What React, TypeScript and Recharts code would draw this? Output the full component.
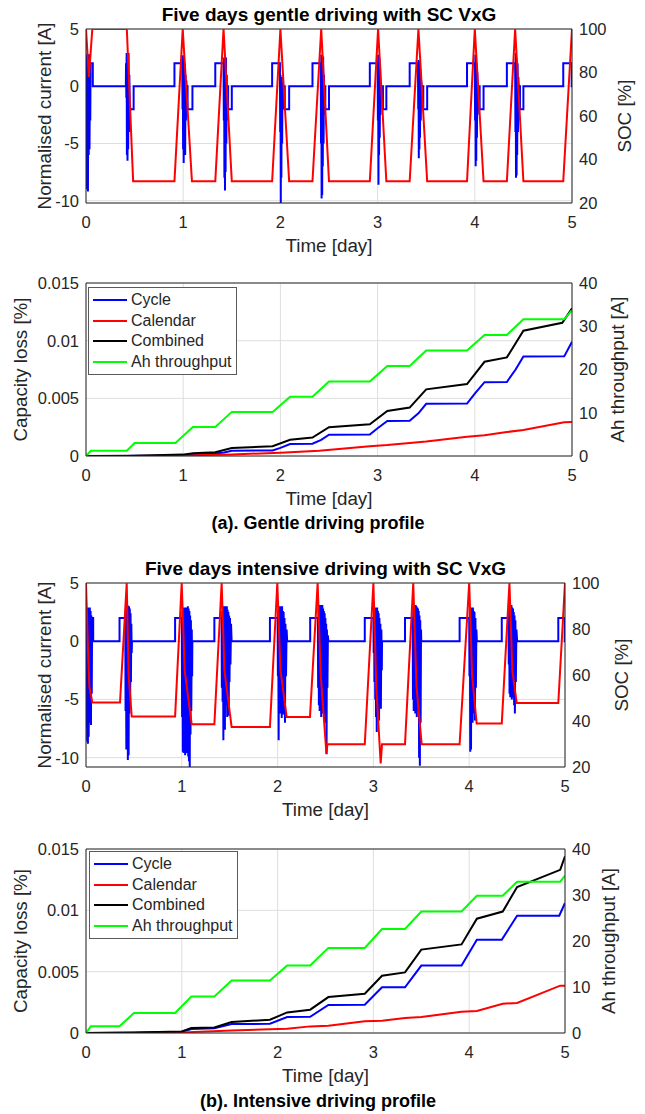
import React from 'react';
import { LineChart, Line, XAxis, YAxis, CartesianGrid, ReferenceLine, Legend, Label } from 'recharts';

type Pt = [number, number];

// ---------------- axis ticks / names ----------------
const timeTicks = [0, 1, 2, 3, 4, 5];
const currentTicks = [-10, -5, 0, 5];
const socTicks = [20, 40, 60, 80, 100];
const lossTicks = [0, 0.005, 0.01, 0.015];
const ahTicks = [0, 10, 20, 30, 40];
const lossNames = ['Cycle', 'Calendar', 'Combined', 'Ah throughput'];
const lossColors = ['#0000ff', '#ff0000', '#000000', '#00ff00'];

// ---------------- gentle: current [A] ----------------
const gentleCurrent: Pt[] = [
  [0, 2], [0.004, -9.0], [0.008, 2.8], [0.012, -8.5], [0.016, 1.5], [0.02, -9.2], [0.024, 2.6], [0.028, -6.0], [0.032, 2.8], [0.036, -5.5], [0.04, 1.0], [0.044, -3.0], [0.047, 2], [0.07, 2], [0.07, 0],
  [0.41, 0], [0.412, 2], [0.415, -1.0], [0.418, 2.9], [0.421, -6.0], [0.424, 2.5], [0.427, -6.5], [0.43, 1.8], [0.434, -5.5], [0.438, 2.9], [0.442, -4.0], [0.446, 1.0], [0.45, -2.5], [0.455, -2], [0.49, -2], [0.49, 0],
  [0.91, 0], [0.91, 2], [0.99, 2], [0.993, -2.0], [0.996, 2.7], [0.999, -5.5], [1.002, 2.2], [1.005, -6.7], [1.008, 2.5], [1.012, -4.5], [1.016, 2.0], [1.02, -6.0], [1.024, 1.0], [1.028, -3.0], [1.032, 0.5], [1.035, 0], [1.045, 0], [1.045, -2], [1.095, -2], [1.095, 0],
  [1.33, 0], [1.33, 2], [1.415, 2], [1.418, -3.0], [1.421, 2.5], [1.424, -8.0], [1.427, 2.2], [1.43, -9.1], [1.433, 1.8], [1.436, -7.5], [1.44, 2.5], [1.444, -5.0], [1.448, 1.0], [1.452, -3.0], [1.455, 0], [1.462, 0], [1.462, -2], [1.5, -2], [1.5, 0],
  [1.915, 0], [1.915, 2], [1.995, 2], [1.998, -4.0], [2.001, 1.0], [2.004, -10.3], [2.007, 0.5], [2.01, -8.0], [2.014, 0.8], [2.018, -5.0], [2.022, 0.3], [2.026, -2.0], [2.03, 0], [2.045, 0], [2.045, -2], [2.09, -2], [2.09, 0],
  [2.33, 0], [2.33, 2], [2.415, 2], [2.418, -5.0], [2.421, 2.75], [2.424, -9.8], [2.427, 2.4], [2.43, -9.5], [2.433, 2.0], [2.436, -7.0], [2.44, 2.6], [2.444, -5.0], [2.448, 1.0], [2.452, -2.5], [2.455, 0], [2.462, 0], [2.462, -2], [2.5, -2], [2.5, 0],
  [2.92, 0], [2.92, 2], [3.0, 2], [3.003, -3.0], [3.006, 2.75], [3.009, -8.6], [3.012, 2.2], [3.015, -6.0], [3.018, 2.5], [3.022, -4.5], [3.026, 1.5], [3.03, -2.5], [3.035, 0], [3.055, 0], [3.055, -2], [3.09, -2], [3.09, 0],
  [3.33, 0], [3.33, 2], [3.415, 2], [3.418, -2.0], [3.421, 2.3], [3.424, -6.3], [3.427, 2.0], [3.43, -5.5], [3.433, 2.2], [3.436, -4.5], [3.44, 1.5], [3.444, -3.0], [3.448, 0.5], [3.452, 0], [3.47, 0], [3.47, -2], [3.51, -2], [3.51, 0],
  [3.92, 0], [3.92, 2], [4.0, 2], [4.003, -3.0], [4.006, 2.75], [4.009, -7.0], [4.012, 2.3], [4.015, -6.5], [4.018, 2.0], [4.022, -4.5], [4.026, 1.2], [4.03, -2.5], [4.035, 0], [4.05, 0], [4.05, -2], [4.09, -2], [4.09, 0],
  [4.33, 0], [4.33, 2], [4.415, 2], [4.418, -4.0], [4.421, 2.9], [4.424, -8.0], [4.427, 2.5], [4.43, -7.8], [4.433, 2.2], [4.436, -6.0], [4.44, 2.0], [4.444, -4.0], [4.448, 0.8], [4.452, 0], [4.465, 0], [4.465, -2], [4.5, -2], [4.5, 0],
  [4.91, 0], [4.91, 2], [4.997, 2], [4.997, 0], [5, 0],
];

// ---------------- gentle: SOC [%] ----------------
const gentleSoc: Pt[] = [
  [0, 100], [0.03, 78], [0.065, 100], [0.42, 100], [0.485, 30], [0.91, 30], [0.995, 100], [1.09, 30], [1.33, 30],
  [1.415, 100], [1.5, 30], [1.915, 30], [2.0, 100], [2.09, 30], [2.33, 30], [2.42, 100], [2.5, 30], [2.92, 30],
  [3.005, 100], [3.09, 30], [3.33, 30], [3.42, 100], [3.51, 30], [3.92, 30], [4.0, 100], [4.09, 30], [4.33, 30],
  [4.415, 100], [4.5, 30], [4.91, 30], [5.0, 100],
];

// ---------------- gentle: capacity loss [%] and Ah ----------------
const gentleCycle: Pt[] = [
  [0, 0], [0.42, 0.00001], [0.5, 0.00002], [0.92, 0.00004], [1.0, 0.00008], [1.1, 0.00018], [1.33, 0.00022], [1.42, 0.0003],
  [1.5, 0.00046], [1.92, 0.00048], [2.0, 0.0007], [2.1, 0.00104], [2.33, 0.00106], [2.42, 0.0014], [2.5, 0.00185], [2.92, 0.00187],
  [3.0, 0.0024], [3.1, 0.00303], [3.33, 0.00305], [3.42, 0.0037], [3.5, 0.00452], [3.92, 0.00455], [4.0, 0.0054], [4.1, 0.0064],
  [4.33, 0.00642], [4.42, 0.0075], [4.5, 0.00862], [4.92, 0.00864], [5.0, 0.0099],
];
const gentleCalendar: Pt[] = [
  [0, 0], [0.5, 0.00001], [1.0, 0.00005], [1.5, 0.00014], [2.0, 0.00028], [2.4, 0.00045], [2.92, 0.00085], [3.1, 0.00095],
  [3.33, 0.00113], [3.5, 0.00125], [3.92, 0.00166], [4.1, 0.0018], [4.33, 0.00208], [4.5, 0.00225], [4.92, 0.00292], [5.0, 0.00295],
];
const gentleCombined: Pt[] = [
  [0, 0], [0.5, 0.00003], [1.0, 0.00012], [1.1, 0.00024], [1.33, 0.00033], [1.5, 0.0007], [1.92, 0.00085], [2.1, 0.0014],
  [2.33, 0.0016], [2.5, 0.0025], [2.92, 0.00275], [3.1, 0.0039], [3.33, 0.0042], [3.5, 0.00578], [3.92, 0.00624], [4.1, 0.00817],
  [4.33, 0.00855], [4.5, 0.01086], [4.9, 0.01155], [5.0, 0.0128],
];
const gentleAh: Pt[] = [
  [0, 0], [0.05, 1.2], [0.42, 1.2], [0.5, 3.0], [0.92, 3.0], [1.1, 6.7], [1.33, 6.7], [1.5, 10.2], [1.92, 10.2], [2.1, 13.7],
  [2.33, 13.7], [2.5, 17.2], [2.92, 17.2], [3.1, 20.8], [3.33, 20.8], [3.5, 24.4], [3.92, 24.4], [4.1, 28.0], [4.33, 28.0],
  [4.5, 31.6], [4.92, 31.6], [5.0, 33.7],
];

// ---------------- intensive: current [A] ----------------
const intensiveCurrent: Pt[] = [
  [0, 2], [0.004, -7.5], [0.008, 2.9], [0.012, -8.6], [0.016, 2.8], [0.02, -8.8], [0.024, 2.9], [0.028, -8.2], [0.032, 2.7], [0.036, -7.0], [0.04, 2.9], [0.044, -6.5], [0.048, 2.6], [0.052, -7.2], [0.056, 2.2], [0.06, -4.5], [0.064, 2], [0.075, 2], [0.075, 0],
  [0.35, 0], [0.35, 2], [0.41, 2],
  [0.413, -6.0], [0.417, 2.9], [0.421, -9.3], [0.425, 3.0], [0.429, -6.5], [0.433, 3.1], [0.437, -10.2], [0.441, 2.9], [0.445, -9.8], [0.449, 3.0], [0.453, -6.2], [0.457, 2.8], [0.461, -5.5], [0.465, 2.4], [0.469, -3.5], [0.473, 1.5], [0.477, -1.0], [0.48, 0],
  [0.93, 0], [0.93, 2], [1.0, 2],
  [1.003, -6.5], [1.007, 2.6], [1.011, -9.5], [1.015, 2.8], [1.019, -9.6], [1.023, 2.9], [1.027, -9.4], [1.031, 2.9], [1.035, -9.8], [1.039, 2.8], [1.043, -9.0], [1.047, 2.9], [1.051, -9.6], [1.055, 2.9], [1.059, -8.5], [1.063, 3.0], [1.067, -9.9], [1.071, 2.8], [1.075, -10.3], [1.079, 2.6], [1.083, -10.8], [1.087, 2.2], [1.091, -8.0], [1.095, 1.8], [1.099, -6.0], [1.104, 1.0], [1.108, -3.0], [1.11, 0],
  [1.34, 0], [1.34, 2], [1.415, 2],
  [1.418, -4.0], [1.422, 2.6], [1.426, -5.2], [1.43, 2.9], [1.434, -8.5], [1.438, 3.0], [1.442, -5.0], [1.446, 2.9], [1.45, -7.6], [1.454, 3.0], [1.458, -5.5], [1.462, 2.8], [1.466, -4.8], [1.47, 3.0], [1.474, -6.5], [1.478, 2.7], [1.482, -5.0], [1.486, 2.5], [1.49, -6.4], [1.494, 2.2], [1.498, -3.5], [1.503, 2.0], [1.508, -2.0], [1.514, 1.5], [1.52, 0],
  [1.92, 0], [1.92, 2], [2.0, 2],
  [2.003, -3.0], [2.007, 2.7], [2.011, -8.5], [2.015, 3.0], [2.019, -5.5], [2.023, 2.9], [2.027, -6.2], [2.031, 3.0], [2.035, -5.0], [2.039, 2.8], [2.043, -6.6], [2.047, 3.0], [2.051, -5.8], [2.055, 2.6], [2.059, -6.3], [2.063, 2.5], [2.067, -4.5], [2.072, 2.0], [2.077, -7.0], [2.082, 1.5], [2.088, -3.0], [2.094, 1.0], [2.1, 0],
  [2.34, 0], [2.34, 2], [2.42, 2],
  [2.423, -4.0], [2.427, 2.9], [2.431, -5.5], [2.435, 3.1], [2.439, -6.0], [2.443, 3.0], [2.447, -5.2], [2.451, 3.1], [2.455, -6.5], [2.459, 2.9], [2.463, -5.8], [2.467, 3.1], [2.471, -6.2], [2.475, 2.8], [2.479, -5.5], [2.483, 2.6], [2.487, -6.0], [2.491, 2.4], [2.495, -7.0], [2.499, 2.0], [2.503, -6.5], [2.507, 1.5], [2.511, -9.7], [2.515, 1.0], [2.52, -4.0], [2.525, 0.5], [2.53, 0],
  [2.91, 0], [2.91, 2], [3.0, 2],
  [3.003, -1.0], [3.007, 2.9], [3.011, -3.5], [3.015, 2.8], [3.019, -5.0], [3.023, 2.9], [3.027, -6.5], [3.031, 2.7], [3.035, -7.8], [3.039, 2.9], [3.043, -6.0], [3.047, 2.6], [3.051, -5.5], [3.055, 2.4], [3.059, -6.8], [3.063, 2.0], [3.068, -4.5], [3.073, 1.5], [3.078, -5.8], [3.083, 1.0], [3.088, -2.5], [3.09, 0],
  [3.33, 0], [3.33, 2], [3.41, 2],
  [3.413, -5.0], [3.417, 2.9], [3.421, -6.0], [3.425, 3.1], [3.429, -5.5], [3.433, 3.0], [3.437, -6.2], [3.441, 3.1], [3.445, -5.8], [3.449, 3.0], [3.453, -6.5], [3.457, 2.9], [3.461, -6.0], [3.465, 2.8], [3.469, -5.5], [3.473, 2.6], [3.477, -10.0], [3.481, 2.2], [3.485, -10.7], [3.489, 1.8], [3.493, -7.0], [3.497, 1.0], [3.5, 0],
  [3.9, 0], [3.9, 2], [4.0, 2],
  [4.003, -3.0], [4.007, 2.9], [4.011, -9.5], [4.015, 2.8], [4.019, -9.3], [4.023, 2.9], [4.027, -6.5], [4.031, 2.7], [4.035, -7.0], [4.039, 2.9], [4.043, -6.2], [4.047, 2.6], [4.051, -5.5], [4.055, 2.5], [4.06, -6.8], [4.065, 2.0], [4.07, -4.0], [4.075, 1.0], [4.08, 0],
  [4.34, 0], [4.34, 2], [4.41, 2],
  [4.413, -2.0], [4.417, 2.8], [4.421, -4.5], [4.425, 3.1], [4.429, -4.8], [4.433, 3.0], [4.437, -3.5], [4.441, 3.1], [4.445, -5.0], [4.449, 2.9], [4.453, -4.2], [4.457, 2.8], [4.461, -4.8], [4.465, 2.5], [4.469, -5.5], [4.473, 2.2], [4.477, -6.2], [4.482, 1.8], [4.487, -3.5], [4.493, 1.0], [4.5, 0],
  [4.93, 0], [4.93, 2], [4.997, 2], [4.997, 0], [5, 0],
];

// ---------------- intensive: SOC [%] ----------------
const intensiveSoc: Pt[] = [
  [0, 100], [0.02, 72], [0.035, 55], [0.066, 48], [0.355, 48], [0.425, 100], [0.445, 60], [0.477, 42], [0.93, 42],
  [0.999, 100], [1.03, 62], [1.103, 38.6], [1.34, 38.6], [1.416, 100], [1.445, 62], [1.52, 37.4], [1.92, 37.4],
  [1.997, 100], [2.03, 62], [2.095, 41.7], [2.338, 41.7], [2.418, 100], [2.45, 60], [2.51, 25.8], [2.52, 29.9], [2.91, 29.9],
  [3.0, 100], [3.03, 55], [3.076, 21.5], [3.09, 29.9], [3.33, 29.9], [3.416, 100], [3.45, 55], [3.504, 29.9], [3.9, 29.9],
  [4.0, 100], [4.03, 60], [4.078, 38.9], [4.34, 38.9], [4.42, 100], [4.45, 62], [4.496, 47.8], [4.93, 47.8], [5.0, 100],
];

// ---------------- intensive: capacity loss [%] and Ah ----------------
const intensiveCycle: Pt[] = [
  [0, 0], [0.5, 0.00002], [1.0, 0.0001], [1.1, 0.00033], [1.34, 0.00038], [1.52, 0.00073], [1.92, 0.00075], [2.1, 0.0013],
  [2.34, 0.00132], [2.53, 0.00228], [2.91, 0.0023], [3.09, 0.00372], [3.33, 0.00372], [3.5, 0.0055], [3.92, 0.0055],
  [4.08, 0.0076], [4.34, 0.0076], [4.5, 0.00956], [4.94, 0.00956], [5.0, 0.0106],
];
const intensiveCalendar: Pt[] = [
  [0, 0], [0.5, 0.00001], [1.0, 0.00005], [1.52, 0.0002], [1.92, 0.0003], [2.1, 0.00035], [2.34, 0.00054], [2.53, 0.0006],
  [2.91, 0.00095], [3.09, 0.001], [3.33, 0.00122], [3.5, 0.0013], [3.92, 0.00174], [4.08, 0.0018], [4.35, 0.00239],
  [4.5, 0.00245], [4.95, 0.00386], [5.0, 0.00386],
];
const intensiveCombined: Pt[] = [
  [0, 0], [0.5, 0.00004], [1.0, 0.00013], [1.1, 0.0004], [1.34, 0.00045], [1.52, 0.0009], [1.92, 0.00108], [2.1, 0.00168],
  [2.34, 0.0019], [2.53, 0.00293], [2.91, 0.0032], [3.09, 0.00467], [3.33, 0.00494], [3.5, 0.0068], [3.92, 0.00722],
  [4.08, 0.00932], [4.35, 0.0099], [4.5, 0.0119], [4.95, 0.0133], [5.0, 0.0144],
];
const intensiveAh: Pt[] = [
  [0, 0], [0.05, 1.45], [0.35, 1.45], [0.43, 3.0], [0.5, 4.35], [0.93, 4.35], [1.1, 7.95], [1.34, 7.95], [1.52, 11.4],
  [1.92, 11.4], [2.1, 14.7], [2.34, 14.7], [2.53, 18.5], [2.91, 18.5], [3.09, 22.6], [3.33, 22.6], [3.5, 26.4], [3.92, 26.4],
  [4.08, 29.85], [4.35, 29.85], [4.5, 32.9], [4.95, 32.9], [5.0, 34.2],
];

// ---------------- styling ----------------
const FONT = '"Liberation Sans", Arial, Helvetica, sans-serif';
const AX = '#262626';
const GRID = '#dedede';
const PLOT_LEFT = 86;
const tickStyle = { fontSize: 16.5, fill: AX, fontFamily: FONT };
const labelProps = { fontSize: 18.8, fill: AX, fontFamily: FONT };

const toRows = (pts: Pt[]) => pts.map(([t, v]) => ({ t, v }));

type CurrentProps = {
  plotTop: number; plotH: number; plotRight: number;
  current: Pt[]; soc: Pt[]; low: number; leftDx: number; rightDx: number;
};

function CurrentPanel({ plotTop, plotH, plotRight, current, soc, low, leftDx, rightDx }: CurrentProps) {
  const rightW = 645 - plotRight;
  return (
    <div style={{ position: 'absolute', left: 0, top: plotTop - 10 }}>
      <LineChart width={645} height={plotH + 65} margin={{ top: 10, right: 0, bottom: 0, left: 0 }}>
        <CartesianGrid stroke={GRID} strokeWidth={1} />
        <XAxis dataKey="t" type="number" domain={[0, 5]} ticks={timeTicks} interval={0} allowDataOverflow
          height={55} tickLine={false} tickSize={4} tickMargin={9} axisLine={{ stroke: AX }} tick={tickStyle}>
          <Label value="Time [day]" position="insideBottom" offset={6} {...labelProps} />
        </XAxis>
        <YAxis type="number" domain={[low, 5]} ticks={currentTicks} interval={0} allowDataOverflow width={PLOT_LEFT}
          tickLine={false} tickSize={4} tickMargin={3} axisLine={{ stroke: AX }} tick={tickStyle}>
          <Label value="Normalised current [A]" angle={-90} position="center" dx={leftDx} {...labelProps} />
        </YAxis>
        <YAxis yAxisId="right" orientation="right" type="number" domain={[20, 100]} ticks={socTicks} interval={0}
          allowDataOverflow width={rightW} tickLine={false} tickSize={4} tickMargin={3} axisLine={{ stroke: AX }} tick={tickStyle}>
          <Label value="SOC [%]" angle={-90} position="center" dx={rightDx} {...labelProps} />
        </YAxis>
        <ReferenceLine y={5} stroke={AX} strokeWidth={1} />
        <Line data={toRows(current)} dataKey="v" type="linear" stroke="#0000ff" strokeWidth={2} dot={false}
          activeDot={false} isAnimationActive={false} />
        <Line data={toRows(soc)} yAxisId="right" dataKey="v" type="linear" stroke="#ff0000" strokeWidth={2} dot={false}
          activeDot={false} isAnimationActive={false} />
      </LineChart>
    </div>
  );
}

const renderLegend = (props: any) => {
  const payload: any[] = (props.payload || []).slice();
  payload.sort((a, b) => lossNames.indexOf(a.value) - lossNames.indexOf(b.value));
  return (
    <div style={{
      border: '1px solid #5a5a5a', background: '#ffffff', padding: '2px 4px 2px 4px',
      fontFamily: FONT, fontSize: 16, color: AX, lineHeight: '20.5px', whiteSpace: 'nowrap',
    }}>
      {payload.map((p: any) => (
        <div key={p.value} style={{ display: 'flex', alignItems: 'center', height: 20.5 }}>
          <span style={{ display: 'inline-block', width: 34, height: 2, background: p.color, marginRight: 4 }} />
          <span>{p.value}</span>
        </div>
      ))}
    </div>
  );
};

type LossProps = {
  plotTop: number; plotH: number; plotRight: number;
  series: Pt[][]; ah: Pt[]; legendLeft: number; legendTop: number; leftDx: number; rightDx: number;
};

function LossPanel({ plotTop, plotH, plotRight, series, ah, legendLeft, legendTop, leftDx, rightDx }: LossProps) {
  const rightW = 645 - plotRight;
  return (
    <div style={{ position: 'absolute', left: 0, top: plotTop - 10 }}>
      <LineChart width={645} height={plotH + 65} margin={{ top: 10, right: 0, bottom: 0, left: 0 }}>
        <CartesianGrid stroke={GRID} strokeWidth={1} />
        <XAxis dataKey="t" type="number" domain={[0, 5]} ticks={timeTicks} interval={0} allowDataOverflow
          height={55} tickLine={false} tickSize={4} tickMargin={9} axisLine={{ stroke: AX }} tick={tickStyle}>
          <Label value="Time [day]" position="insideBottom" offset={6} {...labelProps} />
        </XAxis>
        <YAxis type="number" domain={[0, 0.015]} ticks={lossTicks} interval={0} allowDataOverflow width={PLOT_LEFT}
          tickLine={false} tickSize={4} tickMargin={3} axisLine={{ stroke: AX }} tick={tickStyle}>
          <Label value="Capacity loss [%]" angle={-90} position="center" dx={leftDx} {...labelProps} />
        </YAxis>
        <YAxis yAxisId="right" orientation="right" type="number" domain={[0, 40]} ticks={ahTicks} interval={0}
          allowDataOverflow width={rightW} tickLine={false} tickSize={4} tickMargin={3} axisLine={{ stroke: AX }} tick={tickStyle}>
          <Label value="Ah throughput [A]" angle={-90} position="center" dx={rightDx} {...labelProps} />
        </YAxis>
        <ReferenceLine y={0.015} stroke={AX} strokeWidth={1} />
        {series.map((s, i) => (
          <Line key={lossNames[i]} name={lossNames[i]} data={toRows(s)} dataKey="v" type="linear" stroke={lossColors[i]}
            strokeWidth={2} dot={false} activeDot={false} isAnimationActive={false} />
        ))}
        <Line name={lossNames[3]} data={toRows(ah)} yAxisId="right" dataKey="v" type="linear" stroke={lossColors[3]}
          strokeWidth={2} dot={false} activeDot={false} isAnimationActive={false} />
        <Legend layout="vertical" align="center" verticalAlign="middle" content={renderLegend}
          wrapperStyle={{ left: legendLeft, top: legendTop, width: 'auto' }} />
      </LineChart>
    </div>
  );
}

const textBase: React.CSSProperties = {
  position: 'absolute', textAlign: 'center', fontFamily: FONT, fontWeight: 'bold', color: '#000',
  height: 24, lineHeight: '24px', whiteSpace: 'nowrap',
};

export default function App() {
  return (
    <div style={{ position: 'absolute', left: 0, top: 0, width: 645, height: 1114, background: '#ffffff', overflow: 'hidden' }}>
      <div style={{ ...textBase, left: 86, width: 486, top: 15 - 12, fontSize: 19 }}>Five days gentle driving with SC VxG</div>
      <CurrentPanel plotTop={29} plotH={174} plotRight={572} current={gentleCurrent} soc={gentleSoc} low={-10.2} leftDx={1} rightDx={15.5} />
      <LossPanel plotTop={283} plotH={173} plotRight={572} series={[gentleCycle, gentleCalendar, gentleCombined]} ah={gentleAh}
        legendLeft={88} legendTop={14} leftDx={-22.4} rightDx={8.5} />
      <div style={{ ...textBase, left: 0, width: 636, top: 523 - 12, fontSize: 18 }}>(a). Gentle driving profile</div>

      <div style={{ ...textBase, left: 86, width: 479, top: 569 - 12, fontSize: 19 }}>Five days intensive driving with SC VxG</div>
      <CurrentPanel plotTop={583} plotH={184} plotRight={565} current={intensiveCurrent} soc={intensiveSoc} low={-10.8} leftDx={1} rightDx={16} />
      <LossPanel plotTop={849} plotH={184} plotRight={565} series={[intensiveCycle, intensiveCalendar, intensiveCombined]} ah={intensiveAh}
        legendLeft={89} legendTop={12} leftDx={-22.4} rightDx={3.5} />
      <div style={{ ...textBase, left: 0, width: 636, top: 1101 - 12, fontSize: 18 }}>(b). Intensive driving profile</div>
    </div>
  );
}
